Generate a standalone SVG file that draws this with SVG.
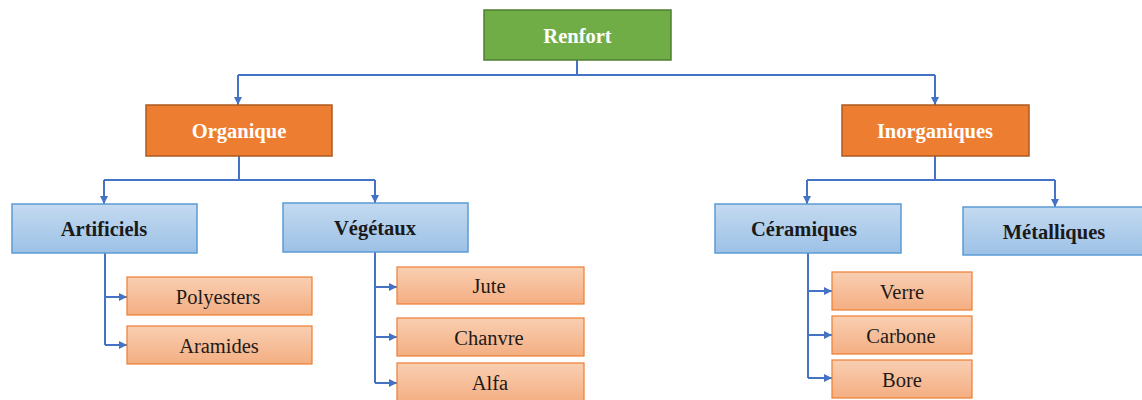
<svg xmlns="http://www.w3.org/2000/svg" width="1142" height="400" viewBox="0 0 1142 400">
<defs>
<linearGradient id="gBlue" x1="0" y1="0" x2="0" y2="1"><stop offset="0" stop-color="#c4daf0"/><stop offset="1" stop-color="#9cc1e6"/></linearGradient>
<linearGradient id="gSal" x1="0" y1="0" x2="0" y2="1"><stop offset="0" stop-color="#f9cfb2"/><stop offset="1" stop-color="#f4ae82"/></linearGradient>
<marker id="arr" viewBox="0 0 10 10" refX="10" refY="5" markerWidth="4" markerHeight="4" orient="auto"><path d="M0,0 L10,5 L0,10 z" fill="#4472c4"/></marker>
</defs>
<style>
.c{fill:none;stroke:#4472c4;stroke-width:2}
.a{marker-end:url(#arr)}
.green{fill:#70ad47;stroke:#507e32;stroke-width:1.5}
.orange{fill:#ed7d31;stroke:#ae5a21;stroke-width:1.5}
.blue{fill:url(#gBlue);stroke:#5b9bd5;stroke-width:1.5}
.sal{fill:url(#gSal);stroke:#ed7d31;stroke-width:1.2}
text{font-family:"Liberation Serif","DejaVu Serif","Times New Roman",serif;text-anchor:middle;dominant-baseline:central}
.tw{font-weight:bold;font-size:20.5px;fill:#ffffff}
.tb{font-weight:bold;font-size:20.5px;fill:#1a1a1a}
.tl{font-size:20.5px;fill:#1f1a17}
</style>
<rect width="1142" height="400" fill="#ffffff"/>
<g id="connectors">
<path class="c" d="M577,60 V75 M238,75 H935"/>
<path class="c a" d="M238,75 V105"/>
<path class="c a" d="M935,75 V105"/>
<path class="c" d="M239,156 V180 M104,180 H375"/>
<path class="c a" d="M104,180 V204"/>
<path class="c a" d="M375,180 V203"/>
<path class="c" d="M935,156 V180 M807,180 H1055"/>
<path class="c a" d="M807,180 V204"/>
<path class="c a" d="M1055,180 V207"/>
<path class="c" d="M105,253 V345"/>
<path class="c a" d="M105,297 H127"/>
<path class="c a" d="M105,345 H127"/>
<path class="c" d="M375,252 V383"/>
<path class="c a" d="M375,287 H397"/>
<path class="c a" d="M375,337 H397"/>
<path class="c a" d="M375,383 H397"/>
<path class="c" d="M808,253 V378"/>
<path class="c a" d="M808,291 H832"/>
<path class="c a" d="M808,335 H832"/>
<path class="c a" d="M808,378 H832"/>
</g>
<g id="renfort"><rect class="green" x="484" y="10" width="187" height="50"/><text class="tw" x="577.5" y="36">Renfort</text></g>
<g id="organique"><rect class="orange" x="146" y="105" width="186" height="51"/><text class="tw" x="239" y="131">Organique</text></g>
<g id="inorganiques"><rect class="orange" x="842" y="105" width="187" height="51"/><text class="tw" x="935" y="131">Inorganiques</text></g>
<g id="artificiels"><rect class="blue" x="12" y="204" width="185" height="49"/><text class="tb" x="104" y="229">Artificiels</text></g>
<g id="vegetaux"><rect class="blue" x="283" y="203" width="185" height="49"/><text class="tb" x="375" y="228">Végétaux</text></g>
<g id="ceramiques"><rect class="blue" x="715" y="204" width="186" height="49"/><text class="tb" x="804" y="229">Céramiques</text></g>
<g id="metalliques"><rect class="blue" x="963" y="207" width="185" height="48"/><text class="tb" x="1054" y="232">Métalliques</text></g>
<g id="polyesters"><rect class="sal" x="127" y="277" width="185" height="38"/><text class="tl" x="218" y="297">Polyesters</text></g>
<g id="aramides"><rect class="sal" x="127" y="326" width="185" height="38"/><text class="tl" x="219" y="346">Aramides</text></g>
<g id="jute"><rect class="sal" x="397" y="267" width="187" height="37"/><text class="tl" x="489" y="286">Jute</text></g>
<g id="chanvre"><rect class="sal" x="397" y="318" width="187" height="38"/><text class="tl" x="489" y="338">Chanvre</text></g>
<g id="alfa"><rect class="sal" x="397" y="363" width="187" height="40"/><text class="tl" x="490" y="383">Alfa</text></g>
<g id="verre"><rect class="sal" x="832" y="272" width="140" height="38"/><text class="tl" x="902" y="292">Verre</text></g>
<g id="carbone"><rect class="sal" x="832" y="316" width="140" height="38"/><text class="tl" x="901" y="336">Carbone</text></g>
<g id="bore"><rect class="sal" x="832" y="360" width="140" height="38"/><text class="tl" x="902" y="380">Bore</text></g>
</svg>
